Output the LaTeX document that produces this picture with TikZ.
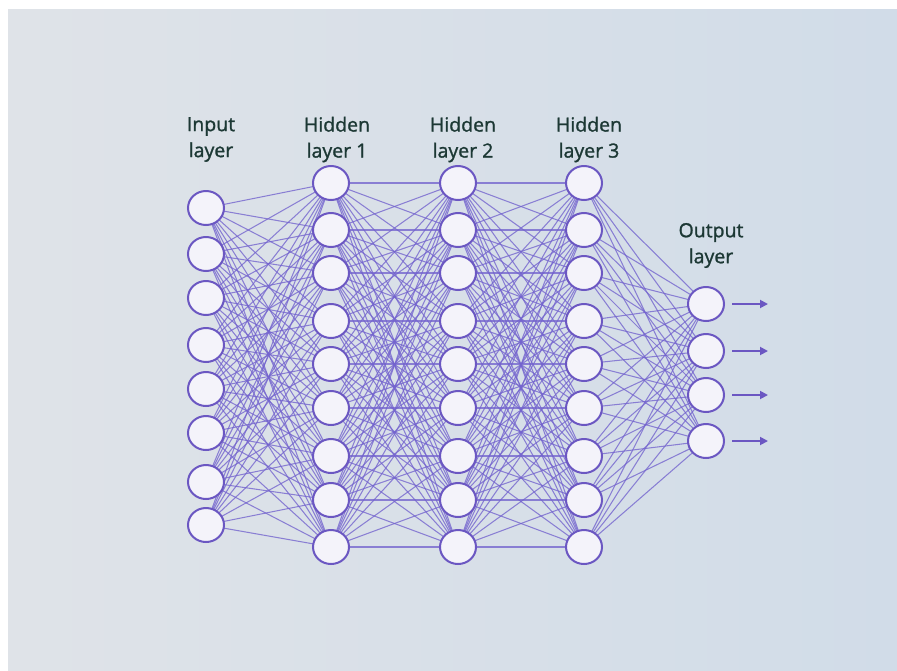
\documentclass[tikz,border=0pt]{standalone}
\usepackage{fontspec}
\setmainfont{Open Sans}
\newfontfamily\lblfont{Open Sans}[FakeBold=1.2]
\usetikzlibrary{shapes.geometric,arrows.meta}
\definecolor{bgL}{HTML}{DFE3E8}
\definecolor{bgR}{HTML}{D1DCE8}
\definecolor{nfill}{HTML}{F4F3FA}
\definecolor{nedge}{HTML}{6B57C2}
\definecolor{wire}{HTML}{7363CE}
\definecolor{ltext}{HTML}{1C3834}
\tikzset{
  neuron/.style={ellipse, draw=nedge, line width=2pt, fill=nfill, minimum width=36pt, minimum height=34pt, inner sep=0pt},
  wirestyle/.style={draw=wire, line width=1.05pt, opacity=0.78},
  lbl/.style={text=ltext, align=center, font=\lblfont\fontsize{19.5}{26}\selectfont},
  outarrow/.style={draw=nedge, line width=1.8pt, -{Triangle[length=8pt,width=8pt]}}
}
\begin{document}
\begin{tikzpicture}[x=1pt,y=-1pt]
\useasboundingbox (0,0) rectangle (897,670);
\fill[white] (0,0) rectangle (897,670);
\shade[left color=bgL, right color=bgR] (8,9) rectangle (897,670);
% input layer
\foreach \y [count=\i] in {208,254,298,345,389,433,482,525}
  \coordinate (a\i) at (206,\y);
% hidden layers
\foreach \y [count=\i] in {183,230,273,321,364,408,456,500,547} {
  \coordinate (b\i) at (331,\y);
  \coordinate (c\i) at (458,\y);
  \coordinate (d\i) at (584,\y);
}
% output
\foreach \y [count=\i] in {304,351,395,441}
  \coordinate (e\i) at (706,\y);
% connections
\foreach \i in {1,...,8} \foreach \j in {1,...,9} \path[wirestyle] (a\i) -- (b\j);
\foreach \i in {1,...,9} \foreach \j in {1,...,9} {
  \path[wirestyle] (b\i) -- (c\j);
  \path[wirestyle] (c\i) -- (d\j);
}
\foreach \i in {1,...,9} \foreach \j in {1,...,4} \path[wirestyle] (d\i) -- (e\j);
% neurons
\foreach \i in {1,...,8} \node[neuron] (na\i) at (a\i) {};
\foreach \i in {1,...,9} {
  \node[neuron] (nb\i) at (b\i) {};
  \node[neuron] (nc\i) at (c\i) {};
  \node[neuron] (nd\i) at (d\i) {};
}
\foreach \i in {1,...,4} \node[neuron] (ne\i) at (e\i) {};
\foreach \y [count=\i] in {304,351,395,441} {
  \coordinate (s\i) at (732,\y);
  \coordinate (f\i) at (768,\y);
  \draw[outarrow] (s\i) -- (f\i);
}
% labels
\node[lbl] (l0) at (211,139.5) {Input\\layer};
\node[lbl] (l1) at (337,139.5) {Hidden\\layer 1};
\node[lbl] (l2) at (463,139.5) {Hidden\\layer 2};
\node[lbl] (l3) at (589,139.5) {Hidden\\layer 3};
\node[lbl] (l4) at (711,245.5) {Output\\layer};
\end{tikzpicture}
\end{document}
